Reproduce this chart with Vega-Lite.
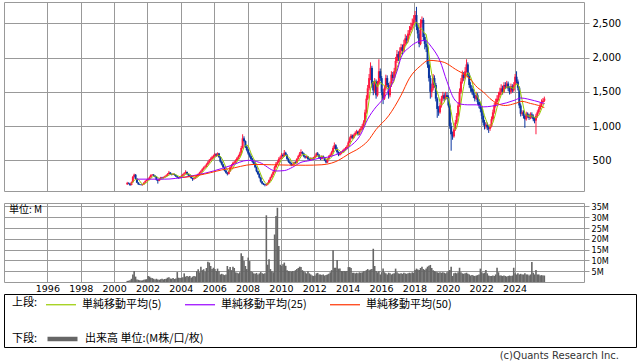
{
"$schema": "https://vega.github.io/schema/vega-lite/v6.json",
"padding": {"left": 3, "top": 1, "right": 0, "bottom": 0},
"config": {"view": {"stroke": "#999"}, "font": "DejaVu Sans", "axis": {"labelFont": "DejaVu Sans", "labelColor": "#000", "gridColor": "#999", "tickColor": "#999", "domain": false}},
"datasets": {
"k": [
{"d":"2000-10-15","o":150,"h":185,"l":140,"c":170,"v":0.5},
{"d":"2000-11-15","o":170,"h":178,"l":150,"c":160,"v":0.6},
{"d":"2000-12-15","o":160,"h":165,"l":125,"c":140,"v":0.8},
{"d":"2001-01-15","o":140,"h":190,"l":135,"c":180,"v":1.5,"m":162},
{"d":"2001-02-15","o":180,"h":272,"l":175,"c":260,"v":3.5,"m":182},
{"d":"2001-03-15","o":260,"h":305,"l":250,"c":290,"v":5.1,"m":206},
{"d":"2001-04-15","o":290,"h":298,"l":220,"c":230,"v":2.5,"m":220},
{"d":"2001-05-15","o":230,"h":238,"l":168,"c":175,"v":1.2,"m":227},
{"d":"2001-06-15","o":175,"h":180,"l":142,"c":150,"v":1.0,"m":221},
{"d":"2001-07-15","o":150,"h":156,"l":138,"c":145,"v":0.8,"m":198},
{"d":"2001-08-15","o":145,"h":150,"l":132,"c":140,"v":0.7,"m":168},
{"d":"2001-09-15","o":140,"h":155,"l":130,"c":150,"v":0.8,"m":152},
{"d":"2001-10-15","o":150,"h":180,"l":145,"c":175,"v":1.0,"m":152},
{"d":"2001-11-15","o":175,"h":206,"l":170,"c":200,"v":1.2,"m":162},
{"d":"2001-12-15","o":200,"h":222,"l":192,"c":215,"v":1.3,"m":176},
{"d":"2002-01-15","o":215,"h":240,"l":208,"c":230,"v":2.8,"m":194},
{"d":"2002-02-15","o":230,"h":265,"l":222,"c":255,"v":2.5,"m":215},
{"d":"2002-03-15","o":255,"h":296,"l":248,"c":285,"v":2.0,"m":237},
{"d":"2002-04-15","o":285,"h":300,"l":275,"c":290,"v":1.8,"m":255},
{"d":"2002-05-15","o":290,"h":298,"l":265,"c":275,"v":1.5,"m":267},
{"d":"2002-06-15","o":275,"h":282,"l":250,"c":260,"v":1.2,"m":273},
{"d":"2002-07-15","o":260,"h":265,"l":205,"c":215,"v":1.5,"m":265},
{"d":"2002-08-15","o":215,"h":220,"l":160,"c":200,"v":1.2,"m":248},
{"d":"2002-09-15","o":200,"h":232,"l":195,"c":225,"v":1.0,"m":235},
{"d":"2002-10-15","o":225,"h":258,"l":220,"c":250,"v":1.3,"m":230},
{"d":"2002-11-15","o":250,"h":258,"l":236,"c":245,"v":1.5,"m":227},
{"d":"2002-12-15","o":245,"h":262,"l":238,"c":255,"v":1.2,"m":235},
{"d":"2003-01-15","o":255,"h":275,"l":248,"c":265,"v":1.4,"m":248},
{"d":"2003-02-15","o":265,"h":290,"l":258,"c":280,"v":1.5,"m":259},
{"d":"2003-03-15","o":280,"h":312,"l":272,"c":300,"v":2.0,"m":269},
{"d":"2003-04-15","o":300,"h":345,"l":292,"c":320,"v":2.2,"m":284},
{"d":"2003-05-15","o":320,"h":328,"l":292,"c":300,"v":1.6,"m":293},
{"d":"2003-06-15","o":300,"h":308,"l":280,"c":290,"v":1.5,"m":298},
{"d":"2003-07-15","o":290,"h":312,"l":284,"c":300,"v":1.8,"m":302},
{"d":"2003-08-15","o":300,"h":306,"l":276,"c":285,"v":1.4,"m":299},
{"d":"2003-09-15","o":285,"h":290,"l":256,"c":265,"v":1.6,"m":288},
{"d":"2003-10-15","o":265,"h":272,"l":240,"c":250,"v":4.6,"m":278},
{"d":"2003-11-15","o":250,"h":256,"l":230,"c":240,"v":2.0,"m":268},
{"d":"2003-12-15","o":240,"h":266,"l":235,"c":260,"v":1.8,"m":260},
{"d":"2004-01-15","o":260,"h":284,"l":252,"c":275,"v":2.0,"m":258},
{"d":"2004-02-15","o":275,"h":305,"l":268,"c":295,"v":2.2,"m":264},
{"d":"2004-03-15","o":295,"h":325,"l":288,"c":310,"v":4.0,"m":276},
{"d":"2004-04-15","o":310,"h":355,"l":302,"c":330,"v":2.5,"m":294},
{"d":"2004-05-15","o":330,"h":336,"l":292,"c":300,"v":2.8,"m":302},
{"d":"2004-06-15","o":300,"h":306,"l":272,"c":280,"v":2.5,"m":303},
{"d":"2004-07-15","o":280,"h":286,"l":255,"c":265,"v":2.8,"m":297},
{"d":"2004-08-15","o":265,"h":270,"l":232,"c":240,"v":2.0,"m":283},
{"d":"2004-09-15","o":240,"h":246,"l":200,"c":225,"v":2.5,"m":262},
{"d":"2004-10-15","o":225,"h":242,"l":218,"c":235,"v":2.8,"m":249},
{"d":"2004-11-15","o":235,"h":266,"l":230,"c":260,"v":2.6,"m":245},
{"d":"2004-12-15","o":260,"h":288,"l":254,"c":280,"v":5.0,"m":248},
{"d":"2005-01-15","o":280,"h":310,"l":274,"c":300,"v":5.9,"m":260},
{"d":"2005-02-15","o":300,"h":332,"l":294,"c":320,"v":4.5,"m":279},
{"d":"2005-03-15","o":320,"h":355,"l":312,"c":340,"v":7.1,"m":300},
{"d":"2005-04-15","o":340,"h":384,"l":332,"c":370,"v":5.5,"m":322},
{"d":"2005-05-15","o":370,"h":410,"l":360,"c":395,"v":5.9,"m":345},
{"d":"2005-06-15","o":395,"h":428,"l":385,"c":410,"v":4.8,"m":367},
{"d":"2005-07-15","o":410,"h":456,"l":400,"c":440,"v":6.5,"m":391},
{"d":"2005-08-15","o":440,"h":490,"l":430,"c":470,"v":9.4,"m":417},
{"d":"2005-09-15","o":470,"h":520,"l":460,"c":500,"v":9.0,"m":443},
{"d":"2005-10-15","o":500,"h":542,"l":488,"c":520,"v":7.4,"m":468},
{"d":"2005-11-15","o":520,"h":566,"l":508,"c":545,"v":6.0,"m":495},
{"d":"2005-12-15","o":545,"h":582,"l":530,"c":560,"v":6.6,"m":519},
{"d":"2006-01-15","o":560,"h":608,"l":548,"c":590,"v":6.0,"m":543},
{"d":"2006-02-15","o":590,"h":602,"l":552,"c":570,"v":5.1,"m":557},
{"d":"2006-03-15","o":570,"h":615,"l":558,"c":600,"v":6.2,"m":573},
{"d":"2006-04-15","o":600,"h":608,"l":535,"c":550,"v":5.0,"m":574},
{"d":"2006-05-15","o":550,"h":558,"l":465,"c":480,"v":3.5,"m":558},
{"d":"2006-06-15","o":480,"h":490,"l":425,"c":440,"v":3.8,"m":528},
{"d":"2006-07-15","o":440,"h":448,"l":388,"c":400,"v":3.5,"m":494},
{"d":"2006-08-15","o":400,"h":408,"l":338,"c":350,"v":3.2,"m":444},
{"d":"2006-09-15","o":350,"h":358,"l":308,"c":320,"v":3.5,"m":398},
{"d":"2006-10-15","o":320,"h":328,"l":280,"c":300,"v":7.4,"m":362},
{"d":"2006-11-15","o":300,"h":348,"l":292,"c":340,"v":5.9,"m":342},
{"d":"2006-12-15","o":340,"h":410,"l":332,"c":400,"v":6.9,"m":342},
{"d":"2007-01-15","o":400,"h":445,"l":390,"c":430,"v":5.5,"m":358},
{"d":"2007-02-15","o":430,"h":478,"l":420,"c":460,"v":7.1,"m":386},
{"d":"2007-03-15","o":460,"h":490,"l":445,"c":470,"v":6.5,"m":420},
{"d":"2007-04-15","o":470,"h":515,"l":460,"c":500,"v":4.5,"m":452},
{"d":"2007-05-15","o":500,"h":548,"l":490,"c":530,"v":4.3,"m":478},
{"d":"2007-06-15","o":530,"h":580,"l":518,"c":560,"v":4.0,"m":504},
{"d":"2007-07-15","o":560,"h":625,"l":548,"c":600,"v":4.5,"m":532},
{"d":"2007-08-15","o":600,"h":710,"l":590,"c":680,"v":13.3,"m":574},
{"d":"2007-09-15","o":680,"h":880,"l":670,"c":820,"v":12.0,"m":638},
{"d":"2007-10-15","o":820,"h":850,"l":760,"c":780,"v":9.7,"m":688},
{"d":"2007-11-15","o":780,"h":790,"l":680,"c":700,"v":7.4,"m":716},
{"d":"2007-12-15","o":700,"h":715,"l":630,"c":650,"v":6.0,"m":726},
{"d":"2008-01-15","o":650,"h":665,"l":580,"c":600,"v":11.3,"m":710},
{"d":"2008-02-15","o":600,"h":615,"l":540,"c":560,"v":9.7,"m":658},
{"d":"2008-03-15","o":560,"h":575,"l":500,"c":520,"v":5.0,"m":606},
{"d":"2008-04-15","o":520,"h":535,"l":465,"c":480,"v":4.6,"m":562},
{"d":"2008-05-15","o":480,"h":492,"l":435,"c":450,"v":4.0,"m":522},
{"d":"2008-06-15","o":450,"h":462,"l":385,"c":400,"v":3.8,"m":482},
{"d":"2008-07-15","o":400,"h":410,"l":325,"c":340,"v":4.2,"m":438},
{"d":"2008-08-15","o":340,"h":350,"l":285,"c":300,"v":3.5,"m":394},
{"d":"2008-09-15","o":300,"h":310,"l":235,"c":250,"v":4.0,"m":348},
{"d":"2008-10-15","o":250,"h":258,"l":175,"c":190,"v":4.6,"m":296},
{"d":"2008-11-15","o":190,"h":198,"l":148,"c":160,"v":4.0,"m":248},
{"d":"2008-12-15","o":160,"h":168,"l":138,"c":150,"v":3.8,"m":210},
{"d":"2009-01-15","o":150,"h":158,"l":120,"c":140,"v":4.0,"m":178},
{"d":"2009-02-15","o":140,"h":160,"l":125,"c":145,"v":30.9,"m":157},
{"d":"2009-03-15","o":145,"h":178,"l":135,"c":170,"v":8.0,"m":153},
{"d":"2009-04-15","o":170,"h":220,"l":162,"c":210,"v":10.5,"m":163},
{"d":"2009-05-15","o":210,"h":262,"l":200,"c":250,"v":6.0,"m":183},
{"d":"2009-06-15","o":250,"h":305,"l":240,"c":290,"v":5.0,"m":213},
{"d":"2009-07-15","o":290,"h":345,"l":280,"c":330,"v":4.5,"m":250},
{"d":"2009-08-15","o":330,"h":420,"l":320,"c":400,"v":22.0,"m":296},
{"d":"2009-09-15","o":400,"h":475,"l":385,"c":450,"v":30.6,"m":344},
{"d":"2009-10-15","o":450,"h":500,"l":435,"c":470,"v":34.4,"m":388},
{"d":"2009-11-15","o":470,"h":545,"l":455,"c":520,"v":16.7,"m":434},
{"d":"2009-12-15","o":520,"h":565,"l":505,"c":540,"v":8.0,"m":476},
{"d":"2010-01-15","o":540,"h":605,"l":525,"c":580,"v":7.4,"m":512},
{"d":"2010-02-15","o":580,"h":600,"l":540,"c":560,"v":8.2,"m":534},
{"d":"2010-03-15","o":560,"h":650,"l":550,"c":610,"v":9.0,"m":562},
{"d":"2010-04-15","o":610,"h":625,"l":565,"c":580,"v":7.5,"m":574},
{"d":"2010-05-15","o":580,"h":590,"l":505,"c":520,"v":5.5,"m":570},
{"d":"2010-06-15","o":520,"h":530,"l":465,"c":480,"v":5.1,"m":550},
{"d":"2010-07-15","o":480,"h":492,"l":445,"c":460,"v":5.0,"m":530},
{"d":"2010-08-15","o":460,"h":470,"l":415,"c":430,"v":4.8,"m":494},
{"d":"2010-09-15","o":430,"h":452,"l":420,"c":440,"v":5.1,"m":466},
{"d":"2010-10-15","o":440,"h":482,"l":428,"c":470,"v":5.0,"m":456},
{"d":"2010-11-15","o":470,"h":485,"l":448,"c":460,"v":5.5,"m":452},
{"d":"2010-12-15","o":460,"h":532,"l":452,"c":520,"v":6.0,"m":464},
{"d":"2011-01-15","o":520,"h":578,"l":510,"c":560,"v":6.5,"m":490},
{"d":"2011-02-15","o":560,"h":622,"l":548,"c":600,"v":7.1,"m":522},
{"d":"2011-03-15","o":600,"h":660,"l":560,"c":620,"v":7.0,"m":552},
{"d":"2011-04-15","o":620,"h":632,"l":585,"c":600,"v":5.5,"m":580},
{"d":"2011-05-15","o":600,"h":610,"l":545,"c":560,"v":5.0,"m":588},
{"d":"2011-06-15","o":560,"h":570,"l":525,"c":540,"v":4.5,"m":584},
{"d":"2011-07-15","o":540,"h":568,"l":530,"c":555,"v":4.0,"m":575},
{"d":"2011-08-15","o":555,"h":562,"l":505,"c":520,"v":5.0,"m":555},
{"d":"2011-09-15","o":520,"h":530,"l":495,"c":510,"v":4.0,"m":537},
{"d":"2011-10-15","o":510,"h":542,"l":500,"c":530,"v":3.5,"m":531},
{"d":"2011-11-15","o":530,"h":540,"l":505,"c":520,"v":3.0,"m":527},
{"d":"2011-12-15","o":520,"h":550,"l":512,"c":540,"v":2.8,"m":524},
{"d":"2012-01-15","o":540,"h":572,"l":530,"c":560,"v":3.0,"m":532},
{"d":"2012-02-15","o":560,"h":615,"l":550,"c":600,"v":4.0,"m":550},
{"d":"2012-03-15","o":600,"h":620,"l":568,"c":580,"v":4.2,"m":560},
{"d":"2012-04-15","o":580,"h":590,"l":528,"c":540,"v":3.5,"m":564},
{"d":"2012-05-15","o":540,"h":550,"l":505,"c":520,"v":3.5,"m":560},
{"d":"2012-06-15","o":520,"h":572,"l":510,"c":560,"v":3.2,"m":560},
{"d":"2012-07-15","o":560,"h":570,"l":528,"c":540,"v":3.5,"m":548},
{"d":"2012-08-15","o":540,"h":548,"l":488,"c":500,"v":3.0,"m":532},
{"d":"2012-09-15","o":500,"h":508,"l":455,"c":470,"v":3.2,"m":518},
{"d":"2012-10-15","o":470,"h":530,"l":462,"c":520,"v":3.5,"m":518},
{"d":"2012-11-15","o":520,"h":575,"l":510,"c":560,"v":3.8,"m":518},
{"d":"2012-12-15","o":560,"h":600,"l":550,"c":580,"v":4.5,"m":526},
{"d":"2013-01-15","o":580,"h":640,"l":570,"c":620,"v":5.5,"m":550},
{"d":"2013-02-15","o":620,"h":705,"l":610,"c":680,"v":14.7,"m":592},
{"d":"2013-03-15","o":680,"h":760,"l":665,"c":720,"v":6.6,"m":632},
{"d":"2013-04-15","o":720,"h":735,"l":645,"c":660,"v":6.6,"m":652},
{"d":"2013-05-15","o":660,"h":690,"l":600,"c":620,"v":10.2,"m":660},
{"d":"2013-06-15","o":620,"h":630,"l":560,"c":580,"v":6.2,"m":652},
{"d":"2013-07-15","o":580,"h":615,"l":570,"c":600,"v":6.2,"m":636},
{"d":"2013-08-15","o":600,"h":632,"l":588,"c":620,"v":5.1,"m":616},
{"d":"2013-09-15","o":620,"h":655,"l":610,"c":640,"v":5.0,"m":612},
{"d":"2013-10-15","o":640,"h":675,"l":628,"c":660,"v":5.1,"m":620},
{"d":"2013-11-15","o":660,"h":695,"l":648,"c":680,"v":5.0,"m":640},
{"d":"2013-12-15","o":680,"h":720,"l":668,"c":700,"v":5.1,"m":660},
{"d":"2014-01-15","o":700,"h":782,"l":690,"c":760,"v":6.9,"m":688},
{"d":"2014-02-15","o":760,"h":845,"l":748,"c":820,"v":6.9,"m":724},
{"d":"2014-03-15","o":820,"h":885,"l":805,"c":860,"v":6.5,"m":764},
{"d":"2014-04-15","o":860,"h":875,"l":815,"c":830,"v":4.3,"m":794},
{"d":"2014-05-15","o":830,"h":890,"l":818,"c":870,"v":4.3,"m":828},
{"d":"2014-06-15","o":870,"h":922,"l":858,"c":900,"v":4.0,"m":856},
{"d":"2014-07-15","o":900,"h":945,"l":885,"c":920,"v":4.3,"m":876},
{"d":"2014-08-15","o":920,"h":930,"l":860,"c":880,"v":4.0,"m":880},
{"d":"2014-09-15","o":880,"h":962,"l":870,"c":940,"v":4.5,"m":902},
{"d":"2014-10-15","o":940,"h":990,"l":920,"c":960,"v":4.3,"m":920},
{"d":"2014-11-15","o":960,"h":1030,"l":945,"c":1000,"v":4.5,"m":940},
{"d":"2014-12-15","o":1000,"h":1085,"l":985,"c":1050,"v":5.0,"m":966},
{"d":"2015-01-15","o":1050,"h":1240,"l":1035,"c":1200,"v":5.0,"m":1030},
{"d":"2015-02-15","o":1200,"h":1450,"l":1180,"c":1400,"v":5.5,"m":1122},
{"d":"2015-03-15","o":1400,"h":1600,"l":1380,"c":1550,"v":6.0,"m":1240},
{"d":"2015-04-15","o":1550,"h":1760,"l":1520,"c":1700,"v":5.5,"m":1380},
{"d":"2015-05-15","o":1700,"h":1930,"l":1670,"c":1850,"v":5.8,"m":1540},
{"d":"2015-06-15","o":1850,"h":1880,"l":1560,"c":1600,"v":6.0,"m":1620},
{"d":"2015-07-15","o":1600,"h":1660,"l":1450,"c":1520,"v":15.4,"m":1644},
{"d":"2015-08-15","o":1520,"h":1700,"l":1480,"c":1650,"v":7.4,"m":1664},
{"d":"2015-09-15","o":1650,"h":1680,"l":1400,"c":1450,"v":5.1,"m":1614},
{"d":"2015-10-15","o":1450,"h":1660,"l":1430,"c":1620,"v":4.5,"m":1568},
{"d":"2015-11-15","o":1620,"h":1975,"l":1600,"c":1800,"v":5.0,"m":1608},
{"d":"2015-12-15","o":1800,"h":1840,"l":1660,"c":1700,"v":3.5,"m":1644},
{"d":"2016-01-15","o":1700,"h":1730,"l":1450,"c":1500,"v":4.5,"m":1614},
{"d":"2016-02-15","o":1500,"h":1540,"l":1320,"c":1400,"v":6.2,"m":1604},
{"d":"2016-03-15","o":1400,"h":1590,"l":1380,"c":1550,"v":4.5,"m":1590},
{"d":"2016-04-15","o":1550,"h":1750,"l":1520,"c":1700,"v":4.0,"m":1570},
{"d":"2016-05-15","o":1700,"h":1740,"l":1570,"c":1600,"v":3.5,"m":1550},
{"d":"2016-06-15","o":1600,"h":1630,"l":1400,"c":1450,"v":4.3,"m":1540},
{"d":"2016-07-15","o":1450,"h":1650,"l":1420,"c":1600,"v":4.0,"m":1580},
{"d":"2016-08-15","o":1600,"h":1800,"l":1570,"c":1750,"v":3.5,"m":1620},
{"d":"2016-09-15","o":1750,"h":1790,"l":1660,"c":1700,"v":3.8,"m":1620},
{"d":"2016-10-15","o":1700,"h":1850,"l":1680,"c":1800,"v":4.0,"m":1660},
{"d":"2016-11-15","o":1800,"h":2010,"l":1770,"c":1950,"v":6.2,"m":1760},
{"d":"2016-12-15","o":1950,"h":2110,"l":1920,"c":2050,"v":4.5,"m":1850},
{"d":"2017-01-15","o":2050,"h":2090,"l":1950,"c":2000,"v":4.0,"m":1900},
{"d":"2017-02-15","o":2000,"h":2150,"l":1970,"c":2100,"v":3.8,"m":1980},
{"d":"2017-03-15","o":2100,"h":2200,"l":2070,"c":2150,"v":4.0,"m":2050},
{"d":"2017-04-15","o":2150,"h":2190,"l":2050,"c":2100,"v":3.8,"m":2080},
{"d":"2017-05-15","o":2100,"h":2260,"l":2080,"c":2200,"v":4.3,"m":2110},
{"d":"2017-06-15","o":2200,"h":2340,"l":2170,"c":2280,"v":4.0,"m":2166},
{"d":"2017-07-15","o":2280,"h":2320,"l":2200,"c":2250,"v":3.8,"m":2196},
{"d":"2017-08-15","o":2250,"h":2400,"l":2220,"c":2350,"v":4.0,"m":2236},
{"d":"2017-09-15","o":2350,"h":2460,"l":2320,"c":2400,"v":4.3,"m":2296},
{"d":"2017-10-15","o":2400,"h":2510,"l":2370,"c":2450,"v":4.0,"m":2346},
{"d":"2017-11-15","o":2450,"h":2570,"l":2420,"c":2500,"v":4.5,"m":2390},
{"d":"2017-12-15","o":2500,"h":2620,"l":2470,"c":2550,"v":4.3,"m":2450},
{"d":"2018-01-15","o":2550,"h":2680,"l":2520,"c":2620,"v":5.6,"m":2504},
{"d":"2018-02-15","o":2620,"h":2740,"l":2400,"c":2450,"v":6.2,"m":2514},
{"d":"2018-03-15","o":2450,"h":2500,"l":2280,"c":2350,"v":5.8,"m":2494},
{"d":"2018-04-15","o":2350,"h":2400,"l":2150,"c":2200,"v":5.6,"m":2434},
{"d":"2018-05-15","o":2200,"h":2560,"l":2180,"c":2500,"v":6.5,"m":2424},
{"d":"2018-06-15","o":2500,"h":2600,"l":2440,"c":2550,"v":7.1,"m":2410},
{"d":"2018-07-15","o":2550,"h":2580,"l":2250,"c":2300,"v":6.0,"m":2380},
{"d":"2018-08-15","o":2300,"h":2350,"l":2120,"c":2200,"v":5.6,"m":2350},
{"d":"2018-09-15","o":2200,"h":2260,"l":2080,"c":2150,"v":6.2,"m":2340},
{"d":"2018-10-15","o":2150,"h":2180,"l":1850,"c":1900,"v":7.1,"m":2220},
{"d":"2018-11-15","o":1900,"h":1950,"l":1650,"c":1700,"v":7.5,"m":2050},
{"d":"2018-12-15","o":1700,"h":1740,"l":1400,"c":1500,"v":7.9,"m":1890},
{"d":"2019-01-15","o":1500,"h":1620,"l":1420,"c":1550,"v":6.5,"m":1760},
{"d":"2019-02-15","o":1550,"h":1760,"l":1520,"c":1700,"v":5.5,"m":1670},
{"d":"2019-03-15","o":1700,"h":1740,"l":1560,"c":1600,"v":5.1,"m":1610},
{"d":"2019-04-15","o":1600,"h":1630,"l":1360,"c":1400,"v":4.8,"m":1550},
{"d":"2019-05-15","o":1400,"h":1420,"l":1120,"c":1250,"v":4.5,"m":1500},
{"d":"2019-06-15","o":1250,"h":1290,"l":1150,"c":1200,"v":4.3,"m":1430},
{"d":"2019-07-15","o":1200,"h":1340,"l":1180,"c":1300,"v":4.5,"m":1350},
{"d":"2019-08-15","o":1300,"h":1440,"l":1270,"c":1400,"v":4.3,"m":1310},
{"d":"2019-09-15","o":1400,"h":1500,"l":1370,"c":1450,"v":4.5,"m":1320},
{"d":"2019-10-15","o":1450,"h":1480,"l":1360,"c":1400,"v":4.3,"m":1350},
{"d":"2019-11-15","o":1400,"h":1500,"l":1380,"c":1450,"v":4.0,"m":1400},
{"d":"2019-12-15","o":1450,"h":1490,"l":1390,"c":1420,"v":4.5,"m":1424},
{"d":"2020-01-15","o":1420,"h":1450,"l":1270,"c":1300,"v":5.0,"m":1404},
{"d":"2020-02-15","o":1300,"h":1330,"l":960,"c":1000,"v":5.6,"m":1314},
{"d":"2020-03-15","o":1000,"h":1050,"l":640,"c":880,"v":7.1,"m":1210},
{"d":"2020-04-15","o":880,"h":920,"l":800,"c":850,"v":2.8,"m":1090},
{"d":"2020-05-15","o":850,"h":980,"l":830,"c":950,"v":4.0,"m":996},
{"d":"2020-06-15","o":950,"h":1090,"l":930,"c":1050,"v":4.3,"m":946},
{"d":"2020-07-15","o":1050,"h":1190,"l":1030,"c":1150,"v":4.0,"m":976},
{"d":"2020-08-15","o":1150,"h":1350,"l":1130,"c":1300,"v":4.5,"m":1060},
{"d":"2020-09-15","o":1300,"h":1550,"l":1280,"c":1500,"v":6.6,"m":1190},
{"d":"2020-10-15","o":1500,"h":1700,"l":1470,"c":1650,"v":4.5,"m":1330},
{"d":"2020-11-15","o":1650,"h":1810,"l":1620,"c":1750,"v":4.0,"m":1470},
{"d":"2020-12-15","o":1750,"h":1790,"l":1660,"c":1700,"v":3.8,"m":1580},
{"d":"2021-01-15","o":1700,"h":1860,"l":1680,"c":1800,"v":4.0,"m":1680},
{"d":"2021-02-15","o":1800,"h":1975,"l":1780,"c":1900,"v":4.3,"m":1760},
{"d":"2021-03-15","o":1900,"h":1930,"l":1710,"c":1750,"v":3.8,"m":1780},
{"d":"2021-04-15","o":1750,"h":1780,"l":1560,"c":1600,"v":3.5,"m":1750},
{"d":"2021-05-15","o":1600,"h":1640,"l":1500,"c":1550,"v":3.0,"m":1720},
{"d":"2021-06-15","o":1550,"h":1590,"l":1460,"c":1500,"v":3.2,"m":1660},
{"d":"2021-07-15","o":1500,"h":1540,"l":1410,"c":1450,"v":3.0,"m":1570},
{"d":"2021-08-15","o":1450,"h":1480,"l":1360,"c":1400,"v":2.8,"m":1500},
{"d":"2021-09-15","o":1400,"h":1500,"l":1380,"c":1450,"v":3.0,"m":1470},
{"d":"2021-10-15","o":1450,"h":1480,"l":1310,"c":1350,"v":3.2,"m":1430},
{"d":"2021-11-15","o":1350,"h":1390,"l":1260,"c":1300,"v":3.5,"m":1390},
{"d":"2021-12-15","o":1300,"h":1340,"l":1200,"c":1250,"v":6.2,"m":1350},
{"d":"2022-01-15","o":1250,"h":1280,"l":1100,"c":1150,"v":4.5,"m":1300},
{"d":"2022-02-15","o":1150,"h":1190,"l":1010,"c":1050,"v":4.0,"m":1220},
{"d":"2022-03-15","o":1050,"h":1090,"l":950,"c":1000,"v":4.3,"m":1150},
{"d":"2022-04-15","o":1000,"h":1060,"l":960,"c":1020,"v":5.6,"m":1094},
{"d":"2022-05-15","o":1020,"h":1050,"l":940,"c":980,"v":4.0,"m":1040},
{"d":"2022-06-15","o":980,"h":1010,"l":900,"c":960,"v":3.0,"m":1002},
{"d":"2022-07-15","o":960,"h":1030,"l":930,"c":1000,"v":2.8,"m":992},
{"d":"2022-08-15","o":1000,"h":1140,"l":980,"c":1100,"v":2.8,"m":1012},
{"d":"2022-09-15","o":1100,"h":1240,"l":1080,"c":1200,"v":3.0,"m":1048},
{"d":"2022-10-15","o":1200,"h":1340,"l":1180,"c":1300,"v":2.8,"m":1112},
{"d":"2022-11-15","o":1300,"h":1400,"l":1270,"c":1350,"v":3.5,"m":1190},
{"d":"2022-12-15","o":1350,"h":1450,"l":1320,"c":1400,"v":6.6,"m":1270},
{"d":"2023-01-15","o":1400,"h":1500,"l":1370,"c":1450,"v":4.5,"m":1340},
{"d":"2023-02-15","o":1450,"h":1560,"l":1420,"c":1500,"v":3.0,"m":1400},
{"d":"2023-03-15","o":1500,"h":1610,"l":1460,"c":1550,"v":3.0,"m":1450},
{"d":"2023-04-15","o":1550,"h":1590,"l":1460,"c":1500,"v":2.8,"m":1480},
{"d":"2023-05-15","o":1500,"h":1640,"l":1480,"c":1600,"v":3.0,"m":1520},
{"d":"2023-06-15","o":1600,"h":1640,"l":1540,"c":1580,"v":2.8,"m":1546},
{"d":"2023-07-15","o":1580,"h":1660,"l":1550,"c":1620,"v":2.5,"m":1570},
{"d":"2023-08-15","o":1620,"h":1650,"l":1510,"c":1550,"v":2.8,"m":1570},
{"d":"2023-09-15","o":1550,"h":1580,"l":1460,"c":1500,"v":3.0,"m":1570},
{"d":"2023-10-15","o":1500,"h":1620,"l":1470,"c":1580,"v":2.8,"m":1566},
{"d":"2023-11-15","o":1580,"h":1610,"l":1490,"c":1520,"v":3.0,"m":1554},
{"d":"2023-12-15","o":1520,"h":1640,"l":1500,"c":1600,"v":6.6,"m":1550},
{"d":"2024-01-15","o":1600,"h":1760,"l":1580,"c":1720,"v":4.0,"m":1584},
{"d":"2024-02-15","o":1720,"h":1800,"l":1620,"c":1650,"v":3.5,"m":1614},
{"d":"2024-03-15","o":1650,"h":1680,"l":1520,"c":1560,"v":4.0,"m":1610},
{"d":"2024-04-15","o":1560,"h":1580,"l":1260,"c":1300,"v":3.5,"m":1566},
{"d":"2024-05-15","o":1300,"h":1330,"l":1140,"c":1180,"v":3.8,"m":1482},
{"d":"2024-06-15","o":1180,"h":1230,"l":1150,"c":1200,"v":3.5,"m":1378},
{"d":"2024-07-15","o":1200,"h":1230,"l":1110,"c":1150,"v":3.5,"m":1278},
{"d":"2024-08-15","o":1150,"h":1170,"l":975,"c":1100,"v":4.0,"m":1186},
{"d":"2024-09-15","o":1100,"h":1210,"l":1080,"c":1180,"v":3.5,"m":1162},
{"d":"2024-10-15","o":1180,"h":1200,"l":1120,"c":1150,"v":3.5,"m":1156},
{"d":"2024-11-15","o":1150,"h":1180,"l":1090,"c":1120,"v":3.0,"m":1140},
{"d":"2024-12-15","o":1120,"h":1200,"l":1100,"c":1170,"v":3.5,"m":1144},
{"d":"2025-01-15","o":1170,"h":1200,"l":1110,"c":1140,"v":9.3,"m":1152},
{"d":"2025-02-15","o":1140,"h":1170,"l":1070,"c":1100,"v":4.3,"m":1136},
{"d":"2025-03-15","o":1100,"h":1130,"l":1040,"c":1080,"v":3.5,"m":1122},
{"d":"2025-04-15","o":1080,"h":1180,"l":880,"c":1150,"v":5.6,"m":1128},
{"d":"2025-05-15","o":1150,"h":1230,"l":1120,"c":1200,"v":3.5,"m":1134},
{"d":"2025-06-15","o":1200,"h":1280,"l":1180,"c":1250,"v":3.5,"m":1156},
{"d":"2025-07-15","o":1250,"h":1340,"l":1230,"c":1300,"v":3.0,"m":1196},
{"d":"2025-08-15","o":1300,"h":1390,"l":1280,"c":1350,"v":3.2,"m":1250},
{"d":"2025-09-15","o":1350,"h":1410,"l":1330,"c":1370,"v":3.0,"m":1294},
{"d":"2025-10-15","o":1370,"h":1430,"l":1350,"c":1400,"v":3.0,"m":1334}
],
"ma": [
{"d":"2001-05-15","v":225,"s":"25"},{"d":"2003-01-15","v":225,"s":"25"},{"d":"2004-04-15","v":257,"s":"25"},{"d":"2005-01-15","v":290,"s":"25"},{"d":"2005-12-15","v":344,"s":"25"},{"d":"2006-12-15","v":420,"s":"25"},{"d":"2008-01-15","v":500,"s":"25"},{"d":"2008-09-15","v":470,"s":"25"},{"d":"2009-09-15","v":344,"s":"25"},{"d":"2010-03-15","v":350,"s":"25"},{"d":"2010-09-15","v":400,"s":"25"},{"d":"2011-03-15","v":470,"s":"25"},{"d":"2011-09-15","v":495,"s":"25"},{"d":"2012-04-15","v":530,"s":"25"},{"d":"2012-10-15","v":545,"s":"25"},{"d":"2013-06-15","v":600,"s":"25"},{"d":"2014-01-15","v":685,"s":"25"},{"d":"2014-10-15","v":880,"s":"25"},{"d":"2015-03-15","v":1100,"s":"25"},{"d":"2015-09-15","v":1280,"s":"25"},{"d":"2016-01-15","v":1370,"s":"25"},{"d":"2016-06-15","v":1520,"s":"25"},{"d":"2016-12-15","v":1800,"s":"25"},{"d":"2017-03-15","v":2000,"s":"25"},{"d":"2017-09-15","v":2150,"s":"25"},{"d":"2018-03-15","v":2230,"s":"25"},{"d":"2018-08-15","v":2250,"s":"25"},{"d":"2019-01-15","v":2150,"s":"25"},{"d":"2019-07-15","v":1950,"s":"25"},{"d":"2019-12-15","v":1650,"s":"25"},{"d":"2020-05-15","v":1400,"s":"25"},{"d":"2020-10-15","v":1320,"s":"25"},{"d":"2021-03-15","v":1310,"s":"25"},{"d":"2021-09-15","v":1310,"s":"25"},{"d":"2022-02-15","v":1280,"s":"25"},{"d":"2022-08-15","v":1290,"s":"25"},{"d":"2023-01-15","v":1310,"s":"25"},{"d":"2023-07-15","v":1340,"s":"25"},{"d":"2024-01-15","v":1380,"s":"25"},{"d":"2024-05-15","v":1410,"s":"25"},{"d":"2024-10-15","v":1395,"s":"25"},{"d":"2025-03-15","v":1370,"s":"25"},{"d":"2025-10-15","v":1330,"s":"25"},
{"d":"2004-02-15","v":250,"s":"50"},{"d":"2005-01-15","v":280,"s":"50"},{"d":"2005-10-15","v":320,"s":"50"},{"d":"2006-06-15","v":360,"s":"50"},{"d":"2007-03-15","v":390,"s":"50"},{"d":"2007-12-15","v":430,"s":"50"},{"d":"2008-06-15","v":440,"s":"50"},{"d":"2009-06-15","v":435,"s":"50"},{"d":"2010-06-15","v":430,"s":"50"},{"d":"2011-06-15","v":428,"s":"50"},{"d":"2012-06-15","v":435,"s":"50"},{"d":"2013-01-15","v":460,"s":"50"},{"d":"2013-06-15","v":500,"s":"50"},{"d":"2014-01-15","v":590,"s":"50"},{"d":"2014-09-15","v":680,"s":"50"},{"d":"2015-03-15","v":780,"s":"50"},{"d":"2015-09-15","v":950,"s":"50"},{"d":"2016-06-15","v":1150,"s":"50"},{"d":"2017-03-15","v":1450,"s":"50"},{"d":"2017-09-15","v":1700,"s":"50"},{"d":"2018-05-15","v":1880,"s":"50"},{"d":"2018-11-15","v":1960,"s":"50"},{"d":"2019-05-15","v":1950,"s":"50"},{"d":"2019-10-15","v":1930,"s":"50"},{"d":"2020-06-15","v":1830,"s":"50"},{"d":"2021-04-15","v":1700,"s":"50"},{"d":"2021-10-15","v":1560,"s":"50"},{"d":"2022-02-15","v":1500,"s":"50"},{"d":"2022-07-15","v":1400,"s":"50"},{"d":"2022-12-15","v":1330,"s":"50"},{"d":"2023-06-15","v":1300,"s":"50"},{"d":"2024-01-15","v":1330,"s":"50"},{"d":"2024-06-15","v":1360,"s":"50"},{"d":"2024-12-15","v":1330,"s":"50"},{"d":"2025-06-15","v":1300,"s":"50"},{"d":"2025-10-15","v":1270,"s":"50"}
],
"lg1": [{"s":"単純移動平均(5)"},{"s":"単純移動平均(25)"},{"s":"単純移動平均(50)"}],
"lg2": [{"s":"出来高 単位:(M株/口/枚)"}]
},
"bounds": "flush",
"spacing": 12,
"vconcat": [
{
"width": 580, "height": 189,
"encoding": {
"x": {"field": "d", "type": "temporal", "scale": {"domain": [{"year": 1993, "month": 9, "date": 13}, {"year": 2027, "month": 11, "date": 13}], "nice": false},
"axis": {"title": null, "labels": false, "ticks": false, "grid": true, "values": [{"year":1996},{"year":1998},{"year":2000},{"year":2002},{"year":2004},{"year":2006},{"year":2008},{"year":2010},{"year":2012},{"year":2014},{"year":2016},{"year":2018},{"year":2020},{"year":2022},{"year":2024}]}}
},
"layer": [
{"data": {"name": "k"}, "mark": {"type": "rule", "strokeWidth": 1},
"encoding": {
"y": {"field": "l", "type": "quantitative", "scale": {"domain": [52, 2811], "nice": false, "zero": false},
"axis": {"title": null, "orient": "right", "values": [500, 1000, 1500, 2000, 2500], "labelExpr": "format(datum.value, ',.0f')", "grid": true, "tickSize": 5, "labelPadding": 3, "labelFontSize": 10}},
"y2": {"field": "h"},
"color": {"condition": {"test": "datum.c >= datum.o", "value": "#ff1a40"}, "value": "#0a35a0"}
}},
{"data": {"name": "k"}, "mark": {"type": "bar", "width": 2},
"encoding": {
"y": {"field": "o", "type": "quantitative"},
"y2": {"field": "c"},
"color": {"condition": {"test": "datum.c >= datum.o", "value": "#ff1a40"}, "value": "#0a35a0"}
}},
{"data": {"name": "k"}, "mark": {"type": "line", "strokeWidth": 1, "color": "#99cc00"},
"encoding": {"y": {"field": "m", "type": "quantitative"}}},
{"data": {"name": "ma"}, "mark": {"type": "line", "strokeWidth": 1, "interpolate": "monotone"},
"encoding": {"y": {"field": "v", "type": "quantitative"},
"color": {"field": "s", "type": "nominal", "scale": {"domain": ["25", "50"], "range": ["#9900ff", "#ff3300"]}, "legend": null}}}
]
},
{
"width": 580, "height": 79,
"title": {"text": "単位: M", "orient": "top", "anchor": "start", "offset": -13, "dx": 5, "font": "Noto Sans CJK JP", "fontSize": 10, "fontWeight": "normal", "color": "#000"},
"data": {"name": "k"},
"mark": {"type": "bar", "width": 1.6, "color": "#666666"},
"encoding": {
"x": {"field": "d", "type": "temporal", "scale": {"domain": [{"year": 1993, "month": 9, "date": 13}, {"year": 2027, "month": 11, "date": 13}], "nice": false},
"axis": {"title": null, "ticks": false, "tickSize": 0, "grid": true, "labelPadding": 1, "labelFontSize": 9.5, "format": "%Y", "values": [{"year":1996},{"year":1998},{"year":2000},{"year":2002},{"year":2004},{"year":2006},{"year":2008},{"year":2010},{"year":2012},{"year":2014},{"year":2016},{"year":2018},{"year":2020},{"year":2022},{"year":2024}]}},
"y": {"field": "v", "type": "quantitative", "scale": {"domain": [0, 36.6], "nice": false},
"axis": {"title": null, "orient": "right", "values": [5, 10, 15, 20, 25, 30, 35], "labelExpr": "datum.value + 'M'", "grid": true, "tickSize": 5, "labelPadding": 2, "labelFontSize": 9, "labelFont": "DejaVu Sans Condensed"}}
}
},
{
"width": 632, "height": 53,
"view": {"stroke": "#000"},
"title": {"text": "(c)Quants Research Inc.", "orient": "bottom", "anchor": "end", "offset": 0, "dy": 3, "dx": -17, "font": "DejaVu Sans", "fontSize": 10, "fontWeight": "normal", "color": "#333"},
"layer": [
{"data": {"name": "lg1"}, "mark": {"type": "point", "opacity": 0},
"encoding": {"stroke": {"field": "s", "type": "nominal", "scale": {"domain": ["単純移動平均(5)", "単純移動平均(25)", "単純移動平均(50)"], "range": ["#99cc00", "#9900ff", "#ff3300"]},
"legend": {"orient": "none", "legendX": 8, "legendY": 2, "direction": "horizontal", "title": "上段:", "titleOrient": "left", "titleAnchor": "middle", "titleBaseline": "middle", "titleFont": "Noto Sans CJK JP", "titleFontSize": 11, "titleFontWeight": "normal", "titleColor": "#000", "titlePadding": 14.5, "labelFont": "Noto Sans CJK JP", "labelFontSize": 11, "labelColor": "#000", "labelOffset": 12.5, "symbolType": "M-2,0H2", "symbolSize": 225, "symbolStrokeWidth": 1.2, "columnPadding": 20, "padding": 0}}}},
{"data": {"name": "lg2"}, "mark": {"type": "point", "opacity": 0},
"encoding": {"stroke": {"field": "s", "type": "nominal", "scale": {"range": ["#666666"]},
"legend": {"orient": "none", "legendX": 8, "legendY": 35, "direction": "horizontal", "title": "下段:", "titleOrient": "left", "titleAnchor": "middle", "titleBaseline": "middle", "titleFont": "Noto Sans CJK JP", "titleFontSize": 11, "titleFontWeight": "normal", "titleColor": "#000", "titlePadding": 14.5, "labelFont": "Noto Sans CJK JP", "labelFontSize": 11, "labelColor": "#000", "labelOffset": 12.5, "symbolType": "M-2,0H2", "symbolSize": 225, "symbolStrokeWidth": 4.5, "padding": 0}}}}
],
"resolve": {"scale": {"stroke": "independent"}, "legend": {"stroke": "independent"}}
}
]
}
